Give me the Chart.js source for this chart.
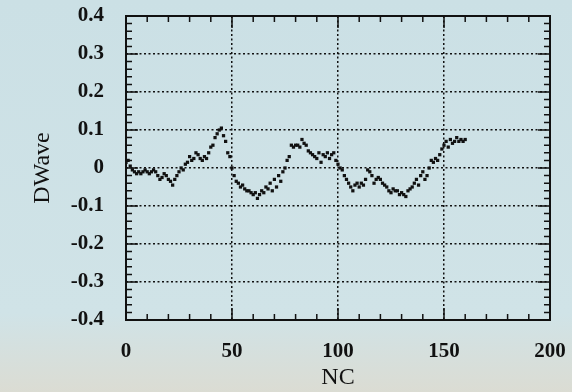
<!DOCTYPE html>
<html>
<head>
<meta charset="utf-8">
<script src="https://cdn.jsdelivr.net/npm/chart.js@4.4.0/dist/chart.umd.min.js"></script>
<style>
  html, body { margin: 0; padding: 0; background: #cfe2e6; }
  #wrap { width: 572px; height: 392px; }
</style>
</head>
<body>
<div id="wrap"><canvas id="myChart" width="572" height="392"></canvas></div>
<script>
// NC (cycle number) and DWave values
const nc = [
  0, 1, 2, 3, 4, 5, 6, 7, 8, 9,
  10, 11, 12, 13, 14, 15, 16, 17, 18, 19,
  20, 21, 22, 23, 24, 25, 26, 27, 28, 29,
  30, 31, 32, 33, 34, 35, 36, 37, 38, 39,
  40, 41, 42, 43, 44, 45, 46, 47, 48, 49,
  50, 51, 52, 53, 54, 55, 56, 57, 58, 59,
  60, 61, 62, 63, 64, 65, 66, 67, 68, 69,
  70, 71, 72, 73, 74, 75, 76, 77, 78, 79,
  80, 81, 82, 83, 84, 85, 86, 87, 88, 89,
  90, 91, 92, 93, 94, 95, 96, 97, 98, 99,
  100, 101, 102, 103, 104, 105, 106, 107, 108, 109,
  110, 111, 112, 113, 114, 115, 116, 117, 118, 119,
  120, 121, 122, 123, 124, 125, 126, 127, 128, 129,
  130, 131, 132, 133, 134, 135, 136, 137, 138, 139,
  140, 141, 142, 143, 144, 145, 146, 147, 148, 149,
  150, 151, 152, 153, 154, 155, 156, 157, 158, 159, 160
];
const dwave = [
  0.015, 0.02, 0.005, -0.005, -0.01, -0.015, -0.01, -0.015, -0.01, -0.005,
  -0.01, -0.015, -0.01, -0.005, -0.01, -0.02, -0.03, -0.025, -0.015, -0.02,
  -0.03, -0.035, -0.045, -0.03, -0.02, -0.01, 0.0, -0.005, 0.01, 0.015,
  0.03, 0.02, 0.025, 0.04, 0.035, 0.025, 0.02, 0.03, 0.025, 0.04,
  0.055, 0.06, 0.08, 0.09, 0.1, 0.105, 0.085, 0.07, 0.04, 0.03,
  0.0, -0.02, -0.035, -0.04, -0.05, -0.045, -0.055, -0.06, -0.06, -0.065,
  -0.07, -0.065, -0.08, -0.07, -0.06, -0.065, -0.05, -0.055, -0.04, -0.06,
  -0.03, -0.05, -0.02, -0.035, -0.01, 0.0, 0.02, 0.03, 0.06, 0.055,
  0.06, 0.06, 0.055, 0.075, 0.065, 0.06, 0.045, 0.04, 0.035, 0.03,
  0.025, 0.04, 0.015, 0.035, 0.03, 0.04, 0.025, 0.035, 0.04, 0.02,
  0.01, 0.0, -0.005, -0.02, -0.03, -0.04, -0.05, -0.06, -0.045, -0.04,
  -0.05, -0.04, -0.045, -0.03, -0.005, -0.01, -0.02, -0.04, -0.03, -0.025,
  -0.03, -0.04, -0.045, -0.05, -0.06, -0.065, -0.055, -0.06, -0.06, -0.07,
  -0.065, -0.07, -0.075, -0.06, -0.055, -0.05, -0.04, -0.03, -0.045, -0.02,
  -0.01, -0.03, -0.02, 0.0, 0.02, 0.015, 0.025, 0.02, 0.035, 0.05,
  0.06, 0.07, 0.055, 0.075, 0.065, 0.07, 0.08, 0.07, 0.075, 0.07, 0.075
];
const xTicks = [0, 50, 100, 150, 200];
const yTicks = [-0.4, -0.3, -0.2, -0.1, 0, 0.1, 0.2, 0.3, 0.4];

const points = nc.map((x, i) => ({ x: x, y: dwave[i] }));
const serif = "'Liberation Serif', 'DejaVu Serif', serif";

// frame with inward ticks on all four sides
const framePlugin = {
  id: 'frame',
  beforeDraw(chart) {
    const c = chart.ctx;
    const g = c.createLinearGradient(0, 0, 0, chart.height);
    g.addColorStop(0, '#cbe0e5');
    g.addColorStop(0.8, '#d0e3e7');
    g.addColorStop(1, '#dbdcd3');
    c.save();
    c.fillStyle = g;
    c.fillRect(0, 0, chart.width, chart.height);
    c.restore();
  },
  afterDraw(chart) {
    const c = chart.ctx;
    const a = chart.chartArea;
    const xs = chart.scales.x, ys = chart.scales.y;
    c.save();
    c.strokeStyle = '#111';
    c.lineWidth = 2;
    c.strokeRect(a.left, a.top, a.right - a.left, a.bottom - a.top);
    c.lineWidth = 1.5;
    c.beginPath();
    for (let v = 0; v <= 200; v += 10) {
      const px = xs.getPixelForValue(v);
      const len = v % 50 === 0 ? 12 : 6;
      c.moveTo(px, a.bottom); c.lineTo(px, a.bottom - len);
      c.moveTo(px, a.top); c.lineTo(px, a.top + len);
    }
    for (let k = -20; k <= 20; k++) {
      const py = ys.getPixelForValue(k * 0.02);
      const len = k % 5 === 0 ? 12 : 6;
      c.moveTo(a.left, py); c.lineTo(a.left + len, py);
      c.moveTo(a.right, py); c.lineTo(a.right - len, py);
    }
    c.stroke();
    c.restore();
  }
};

new Chart(document.getElementById('myChart'), {
  type: 'scatter',
  data: {
    datasets: [{
      data: points,
      pointStyle: 'rect',
      pointRadius: 2.3,
      pointHoverRadius: 2.3,
      backgroundColor: '#111',
      borderWidth: 0
    }]
  },
  plugins: [framePlugin],
  options: {
    responsive: false,
    animation: false,
    layout: { padding: { left: 0, right: 22, top: 16, bottom: 0 } },
    plugins: { legend: { display: false }, tooltip: { enabled: false } },
    scales: {
      x: {
        type: 'linear',
        min: 0, max: 200,
        afterBuildTicks(s) { s.ticks = xTicks.map(v => ({ value: v })); },
        afterFit(s) { s.height = 72; s.paddingLeft = 0; s.paddingRight = 0; },
        ticks: {
          padding: 19,
          color: '#111',
          font: { family: serif, size: 21, weight: 'bold' }
        },
        grid: {
          drawTicks: false,
          color: ctx => (ctx.tick && (ctx.tick.value === 0 || ctx.tick.value === 200)) ? 'rgba(0,0,0,0)' : '#111',
          lineWidth: 1.5
        },
        border: { display: false, dash: [2, 2.5] },
        title: {
          display: true,
          text: 'NC',
          color: '#111',
          font: { family: serif, size: 24 },
          padding: 0
        }
      },
      y: {
        type: 'linear',
        min: -0.4, max: 0.4,
        afterBuildTicks(s) { s.ticks = yTicks.map(v => ({ value: v })); },
        afterFit(s) { s.width = 126; s.paddingTop = 0; s.paddingBottom = 0; },
        ticks: {
          padding: 22,
          color: '#111',
          font: { family: serif, size: 21, weight: 'bold' },
          callback: v => String(Math.round(v * 10) / 10)
        },
        grid: {
          drawTicks: false,
          color: ctx => (ctx.tick && Math.abs(Math.abs(ctx.tick.value) - 0.4) < 1e-9) ? 'rgba(0,0,0,0)' : '#111',
          lineWidth: 1.5
        },
        border: { display: false, dash: [2, 2.5] },
        title: {
          display: true,
          text: 'DWave',
          color: '#111',
          font: { family: serif, size: 24 },
          padding: { top: 28, bottom: 0 }
        }
      }
    }
  }
});
</script>
</body>
</html>
